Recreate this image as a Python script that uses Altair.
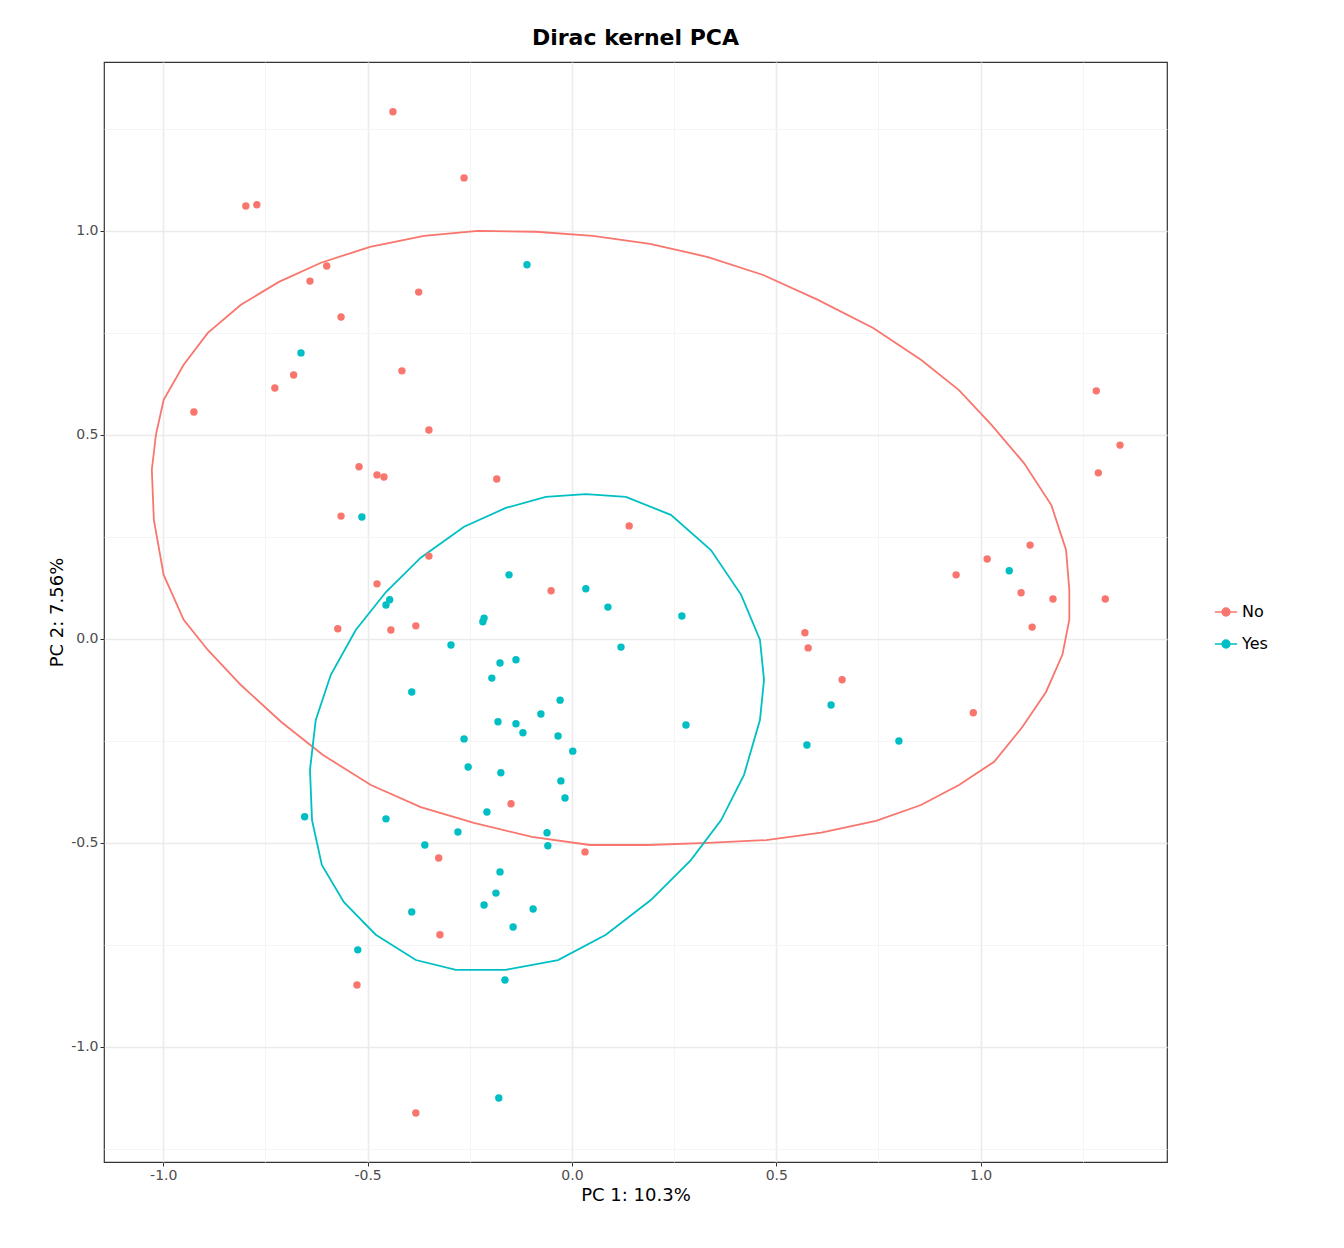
import pandas as pd
import altair as alt

# points (PC1, PC2)
no_x = [-0.438, -0.264, -0.798, -0.771, -0.600, -0.641, -0.375, -0.565, -0.727, -0.681,
        -0.416, -0.925, -0.350, -0.521, -0.477, -0.460, -0.184, -0.565, 0.140, -0.350,
        -0.477, -0.051, -0.573, -0.443, -0.382, 1.283, 1.341, 1.288, 1.121, 1.016,
        0.940, 1.099, 1.177, 1.305, 1.126, 0.570, 0.578, 0.661, 0.982, -0.149,
        0.032, -0.326, -0.323, -0.526, -0.382]
no_y = [1.292, 1.130, 1.061, 1.064, 0.914, 0.877, 0.850, 0.789, 0.615, 0.647,
        0.657, 0.556, 0.512, 0.422, 0.402, 0.397, 0.392, 0.301, 0.277, 0.203,
        0.135, 0.118, 0.025, 0.022, 0.032, 0.608, 0.475, 0.407, 0.230, 0.196,
        0.157, 0.113, 0.098, 0.098, 0.029, 0.015, -0.022, -0.100, -0.181, -0.404,
        -0.522, -0.537, -0.725, -0.848, -1.162]
yes_x = [-0.110, -0.663, -0.514, -0.154, 0.034, 1.070, -0.446, -0.455, 0.088, -0.215,
         -0.218, 0.269, -0.296, 0.120, -0.137, -0.176, -0.196, -0.392, -0.029, -0.076,
         0.634, -0.181, -0.137, 0.279, -0.120, -0.034, -0.264, 0.575, 0.800, 0.002,
         -0.254, -0.174, -0.027, -0.017, -0.208, -0.654, -0.455, -0.279, -0.061, -0.360,
         -0.059, -0.176, -0.186, -0.215, -0.095, -0.392, -0.144, -0.524, -0.164, -0.179]
yes_y = [0.917, 0.701, 0.299, 0.157, 0.123, 0.167, 0.096, 0.083, 0.078, 0.051,
         0.042, 0.056, -0.015, -0.020, -0.051, -0.059, -0.096, -0.130, -0.150, -0.184,
         -0.162, -0.203, -0.208, -0.211, -0.230, -0.238, -0.245, -0.260, -0.250, -0.275,
         -0.314, -0.328, -0.348, -0.390, -0.424, -0.436, -0.441, -0.473, -0.475, -0.505,
         -0.507, -0.571, -0.623, -0.652, -0.662, -0.669, -0.706, -0.762, -0.836, -1.125]

# ellipse outlines
no_ell_x = [-1.028, -1.018, -0.999, -0.950, -0.891, -0.810, -0.717, -0.614, -0.494, -0.362,
            -0.230, -0.088, 0.051, 0.191, 0.333, 0.468, 0.602, 0.737, 0.854, 0.947,
            1.026, 1.106, 1.173, 1.209, 1.217, 1.217, 1.200, 1.160, 1.102, 1.033,
            0.947, 0.854, 0.744, 0.610, 0.475, 0.333, 0.186, 0.044, -0.098, -0.240,
            -0.370, -0.492, -0.610, -0.712, -0.810, -0.891, -0.950, -0.999, -1.023, -1.028]
no_ell_y = [0.414, 0.500, 0.586, 0.672, 0.750, 0.819, 0.875, 0.922, 0.961, 0.988,
            1.000, 0.998, 0.988, 0.968, 0.936, 0.892, 0.831, 0.762, 0.684, 0.610,
            0.525, 0.431, 0.328, 0.218, 0.120, 0.047, -0.039, -0.130, -0.216, -0.301,
            -0.358, -0.407, -0.446, -0.475, -0.493, -0.500, -0.505, -0.505, -0.485, -0.451,
            -0.412, -0.358, -0.284, -0.203, -0.113, -0.027, 0.047, 0.157, 0.292, 0.414]
yes_ell_x = [0.034, 0.132, 0.242, 0.340, 0.414, 0.460, 0.470, 0.460, 0.421, 0.365,
             0.291, 0.193, 0.083, -0.034, -0.162, -0.284, -0.382, -0.480, -0.558, -0.612,
             -0.636, -0.641, -0.627, -0.590, -0.529, -0.455, -0.370, -0.264, -0.162, -0.064, 0.034]
yes_ell_y = [0.355, 0.348, 0.304, 0.218, 0.108, -0.002, -0.100, -0.199, -0.333, -0.444,
             -0.542, -0.640, -0.725, -0.787, -0.811, -0.811, -0.787, -0.725, -0.645, -0.554,
             -0.444, -0.321, -0.199, -0.088, 0.022, 0.115, 0.199, 0.275, 0.321, 0.348, 0.355]

pts = pd.concat([
    pd.DataFrame({"x": no_x, "y": no_y, "g": "No"}),
    pd.DataFrame({"x": yes_x, "y": yes_y, "g": "Yes"}),
])
ell = pd.concat([
    pd.DataFrame({"x": no_ell_x, "y": no_ell_y, "g": "No", "i": range(len(no_ell_x))}),
    pd.DataFrame({"x": yes_ell_x, "y": yes_ell_y, "g": "Yes", "i": range(len(yes_ell_x))}),
])

ticks = [-1.25, -1.0, -0.75, -0.5, -0.25, 0.0, 0.25, 0.5, 0.75, 1.0, 1.25]
minor = "abs(datum.value * 2 - round(datum.value * 2)) > 0.01"
label = f"{minor} ? '' : replace(format(datum.value, '.1f'), '\u2212', '-')"


def ax(title):
    return alt.Axis(
        title=title, values=ticks, labelExpr=label, grid=True,
        gridColor={"condition": {"test": minor, "value": "#f3f3f3"}, "value": "#ebebeb"},
        gridWidth={"condition": {"test": minor, "value": 0.8}, "value": 1.6},
        tickColor={"condition": {"test": minor, "value": "transparent"}, "value": "#333333"},
        tickSize=4, domain=False, labelFontSize=14, labelColor="#4d4d4d",
        titleFontSize=18, titleFontWeight="normal", titleColor="black",
        labelFont="DejaVu Sans", titleFont="DejaVu Sans",
    )


color = alt.Color(
    "g:N", title=None,
    scale=alt.Scale(domain=["No", "Yes"], range=["#F8766D", "#00BFC4"]),
    legend=alt.Legend(
        symbolType="M-1,0H1M-0.35,0a0.35,0.35 0 1,0 0.7,0a0.35,0.35 0 1,0 -0.7,0",
        symbolSize=500, symbolStrokeWidth=1.5, labelFontSize=16, labelFont="DejaVu Sans",
        rowPadding=12, orient="none", legendX=1110, legendY=538,
    ),
)

xs = alt.Scale(domain=[-1.145, 1.456], nice=False, zero=False)
ys = alt.Scale(domain=[-1.282, 1.414], nice=False, zero=False)

lines = alt.Chart(ell).mark_line(strokeWidth=1.8).encode(
    x=alt.X("x:Q", scale=xs, axis=ax("PC 1: 10.3%")),
    y=alt.Y("y:Q", scale=ys, axis=ax("PC 2: 7.56%")),
    color=color, order="i:Q", detail="g:N",
)
points = alt.Chart(pts).mark_circle(size=55, opacity=1).encode(
    x=alt.X("x:Q", scale=xs), y=alt.Y("y:Q", scale=ys), color=color,
)

chart = (lines + points).properties(
    width=1063, height=1100,
    title=alt.TitleParams("Dirac kernel PCA", fontSize=22, font="DejaVu Sans",
                          fontWeight="bold", anchor="middle", offset=12),
    padding={"left": 40, "top": 19, "right": 10, "bottom": 10},
).configure_view(stroke="#333333", strokeWidth=1.2)

chart.save("out.html", embed_options={"renderer": "svg", "actions": False})
